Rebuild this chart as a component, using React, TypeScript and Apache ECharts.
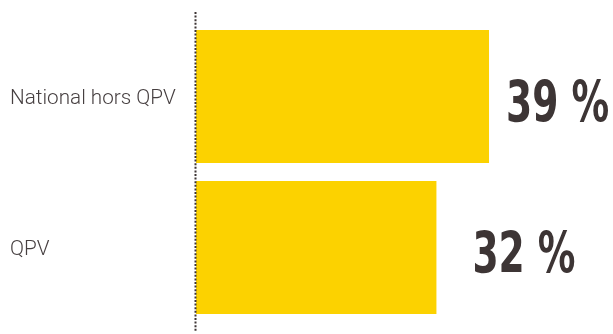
import React, { useEffect, useRef } from "react";
import * as echarts from "echarts";

const categories = ["National hors QPV", "QPV"];
const values = [39, 32];
const valueLabels = ["39 %", "32 %"];

export default function App() {
  const ref = useRef<HTMLDivElement>(null);
  useEffect(() => {
    if (!ref.current) return;
    const chart = echarts.init(ref.current, null, { renderer: "svg" });
    const labelDistances = [17, 36];
    chart.setOption({
      animation: false,
      grid: { left: 196, right: 0, top: 21, bottom: 11 },
      xAxis: { type: "value", min: 0, max: 55.5, show: false },
      yAxis: {
        type: "category",
        data: categories,
        inverse: true,
        axisLine: { show: false },
        axisTick: { show: false },
        axisLabel: {
          align: "left",
          margin: 186,
          fontFamily: "Roboto",
          fontWeight: 300,
          fontSize: 20.7,
          color: "#463f40",
          padding: [19, 0, 0, 0],
        },
      },
      graphic: [
        {
          type: "line",
          shape: { x1: 195.5, y1: 12, x2: 195.5, y2: 331 },
          style: { stroke: "#3d3535", lineWidth: 2, lineDash: [2, 1.6] },
          z: 10,
        },
      ],
      series: [
        {
          type: "bar",
          barCategoryGap: "12%",
          itemStyle: { color: "#fcd200" },
          data: values,
        },
        {
          type: "custom",
          data: values.map((v, i) => [v, i]),
          encode: { x: 0, y: 1 },
          renderItem: (params: any, api: any) => {
            const i = params.dataIndex;
            const p = api.coord([api.value(0), api.value(1)]);
            return {
              type: "text",
              x: p[0] + labelDistances[i],
              y: p[1] + 5,
              scaleX: 0.66,
              style: {
                text: valueLabels[i],
                x: 0,
                y: 0,
                fill: "#3d3535",
                font: "bold 57px 'DejaVu Sans', sans-serif",
                textAlign: "left",
                textVerticalAlign: "middle",
              },
            };
          },
        },
      ],
    });
    return () => chart.dispose();
  }, []);
  return (
    <div
      ref={ref}
      style={{ position: "fixed", left: 0, top: 0, width: 613, height: 334 }}
    />
  );
}
